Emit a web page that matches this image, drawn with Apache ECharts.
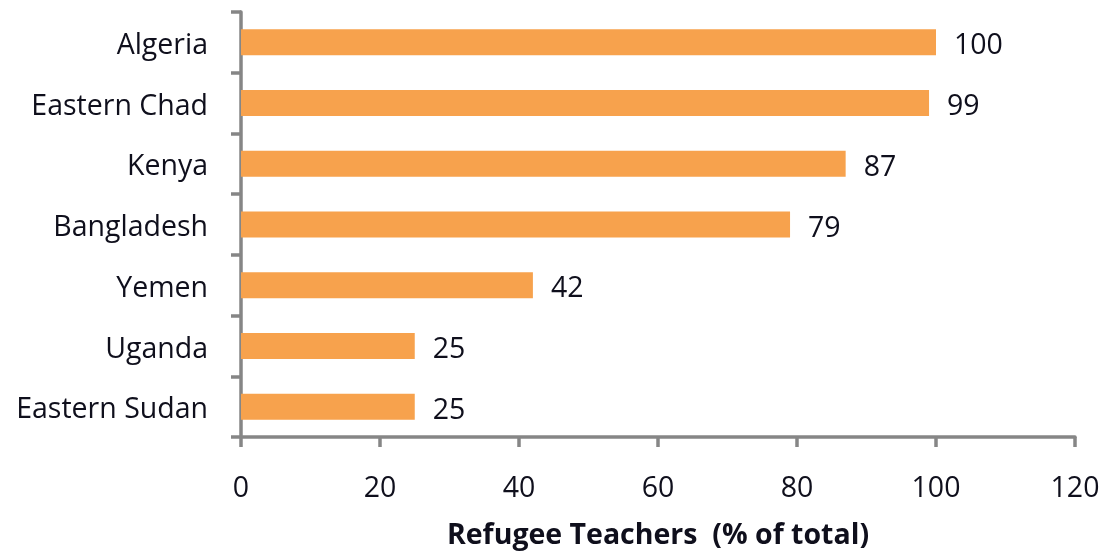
<!DOCTYPE html>
<html>
<head>
<meta charset="utf-8">
<script src="https://cdn.jsdelivr.net/npm/echarts@6/dist/echarts.min.js"></script>
<style>
html,body{margin:0;padding:0;background:#fff;}
#chart{width:1108px;height:555px;}
</style>
</head>
<body>
<div id="chart"></div>
<script>
const categories = ['Algeria', 'Eastern Chad', 'Kenya', 'Bangladesh', 'Yemen', 'Uganda', 'Eastern Sudan'];
const values = [100, 99, 87, 79, 42, 25, 25];
const axisTitle = 'Refugee Teachers  (% of total)';

const axisColor = '#868686';
const textColor = '#0f0f1c';
const fontFamily = '"Open Sans", sans-serif';

const chart = echarts.init(document.getElementById('chart'), null, {renderer: 'canvas'});
chart.setOption({
  animation: false,
  backgroundColor: '#ffffff',
  grid: {left: 241, right: 33, top: 12, bottom: 115, containLabel: false},
  xAxis: {
    type: 'value',
    min: 0, max: 120, interval: 20,
    name: axisTitle,
    nameLocation: 'middle',
    nameGap: 84,
    nameTextStyle: {color: textColor, fontFamily: fontFamily, fontSize: 28.5, fontWeight: 'bold'},
    axisLine: {show: true, lineStyle: {color: axisColor, width: 3.5}},
    axisTick: {show: true, length: 10, lineStyle: {color: axisColor, width: 3.5}},
    axisLabel: {color: textColor, fontFamily: fontFamily, fontSize: 28.5, margin: 37},
    splitLine: {show: false}
  },
  yAxis: {
    type: 'category',
    data: categories,
    inverse: true,
    axisLine: {show: true, lineStyle: {color: axisColor, width: 3.5}},
    axisTick: {show: true, length: 10, lineStyle: {color: axisColor, width: 3.5}},
    axisLabel: {
      margin: 33,
      formatter: function (v) { return '{a|' + v + '}'; },
      rich: {a: {color: textColor, fontFamily: fontFamily, fontSize: 28.5, padding: [7, 0, 0, 0]}}
    },
    splitLine: {show: false}
  },
  series: [{
    type: 'bar',
    data: values,
    barWidth: 26,
    itemStyle: {color: '#F7A24D'},
    label: {
      show: true,
      position: 'right',
      distance: 18,
      color: textColor,
      fontFamily: fontFamily,
      fontSize: 28.5,
      offset: [0, 4]
    }
  }]
});
</script>
</body>
</html>
